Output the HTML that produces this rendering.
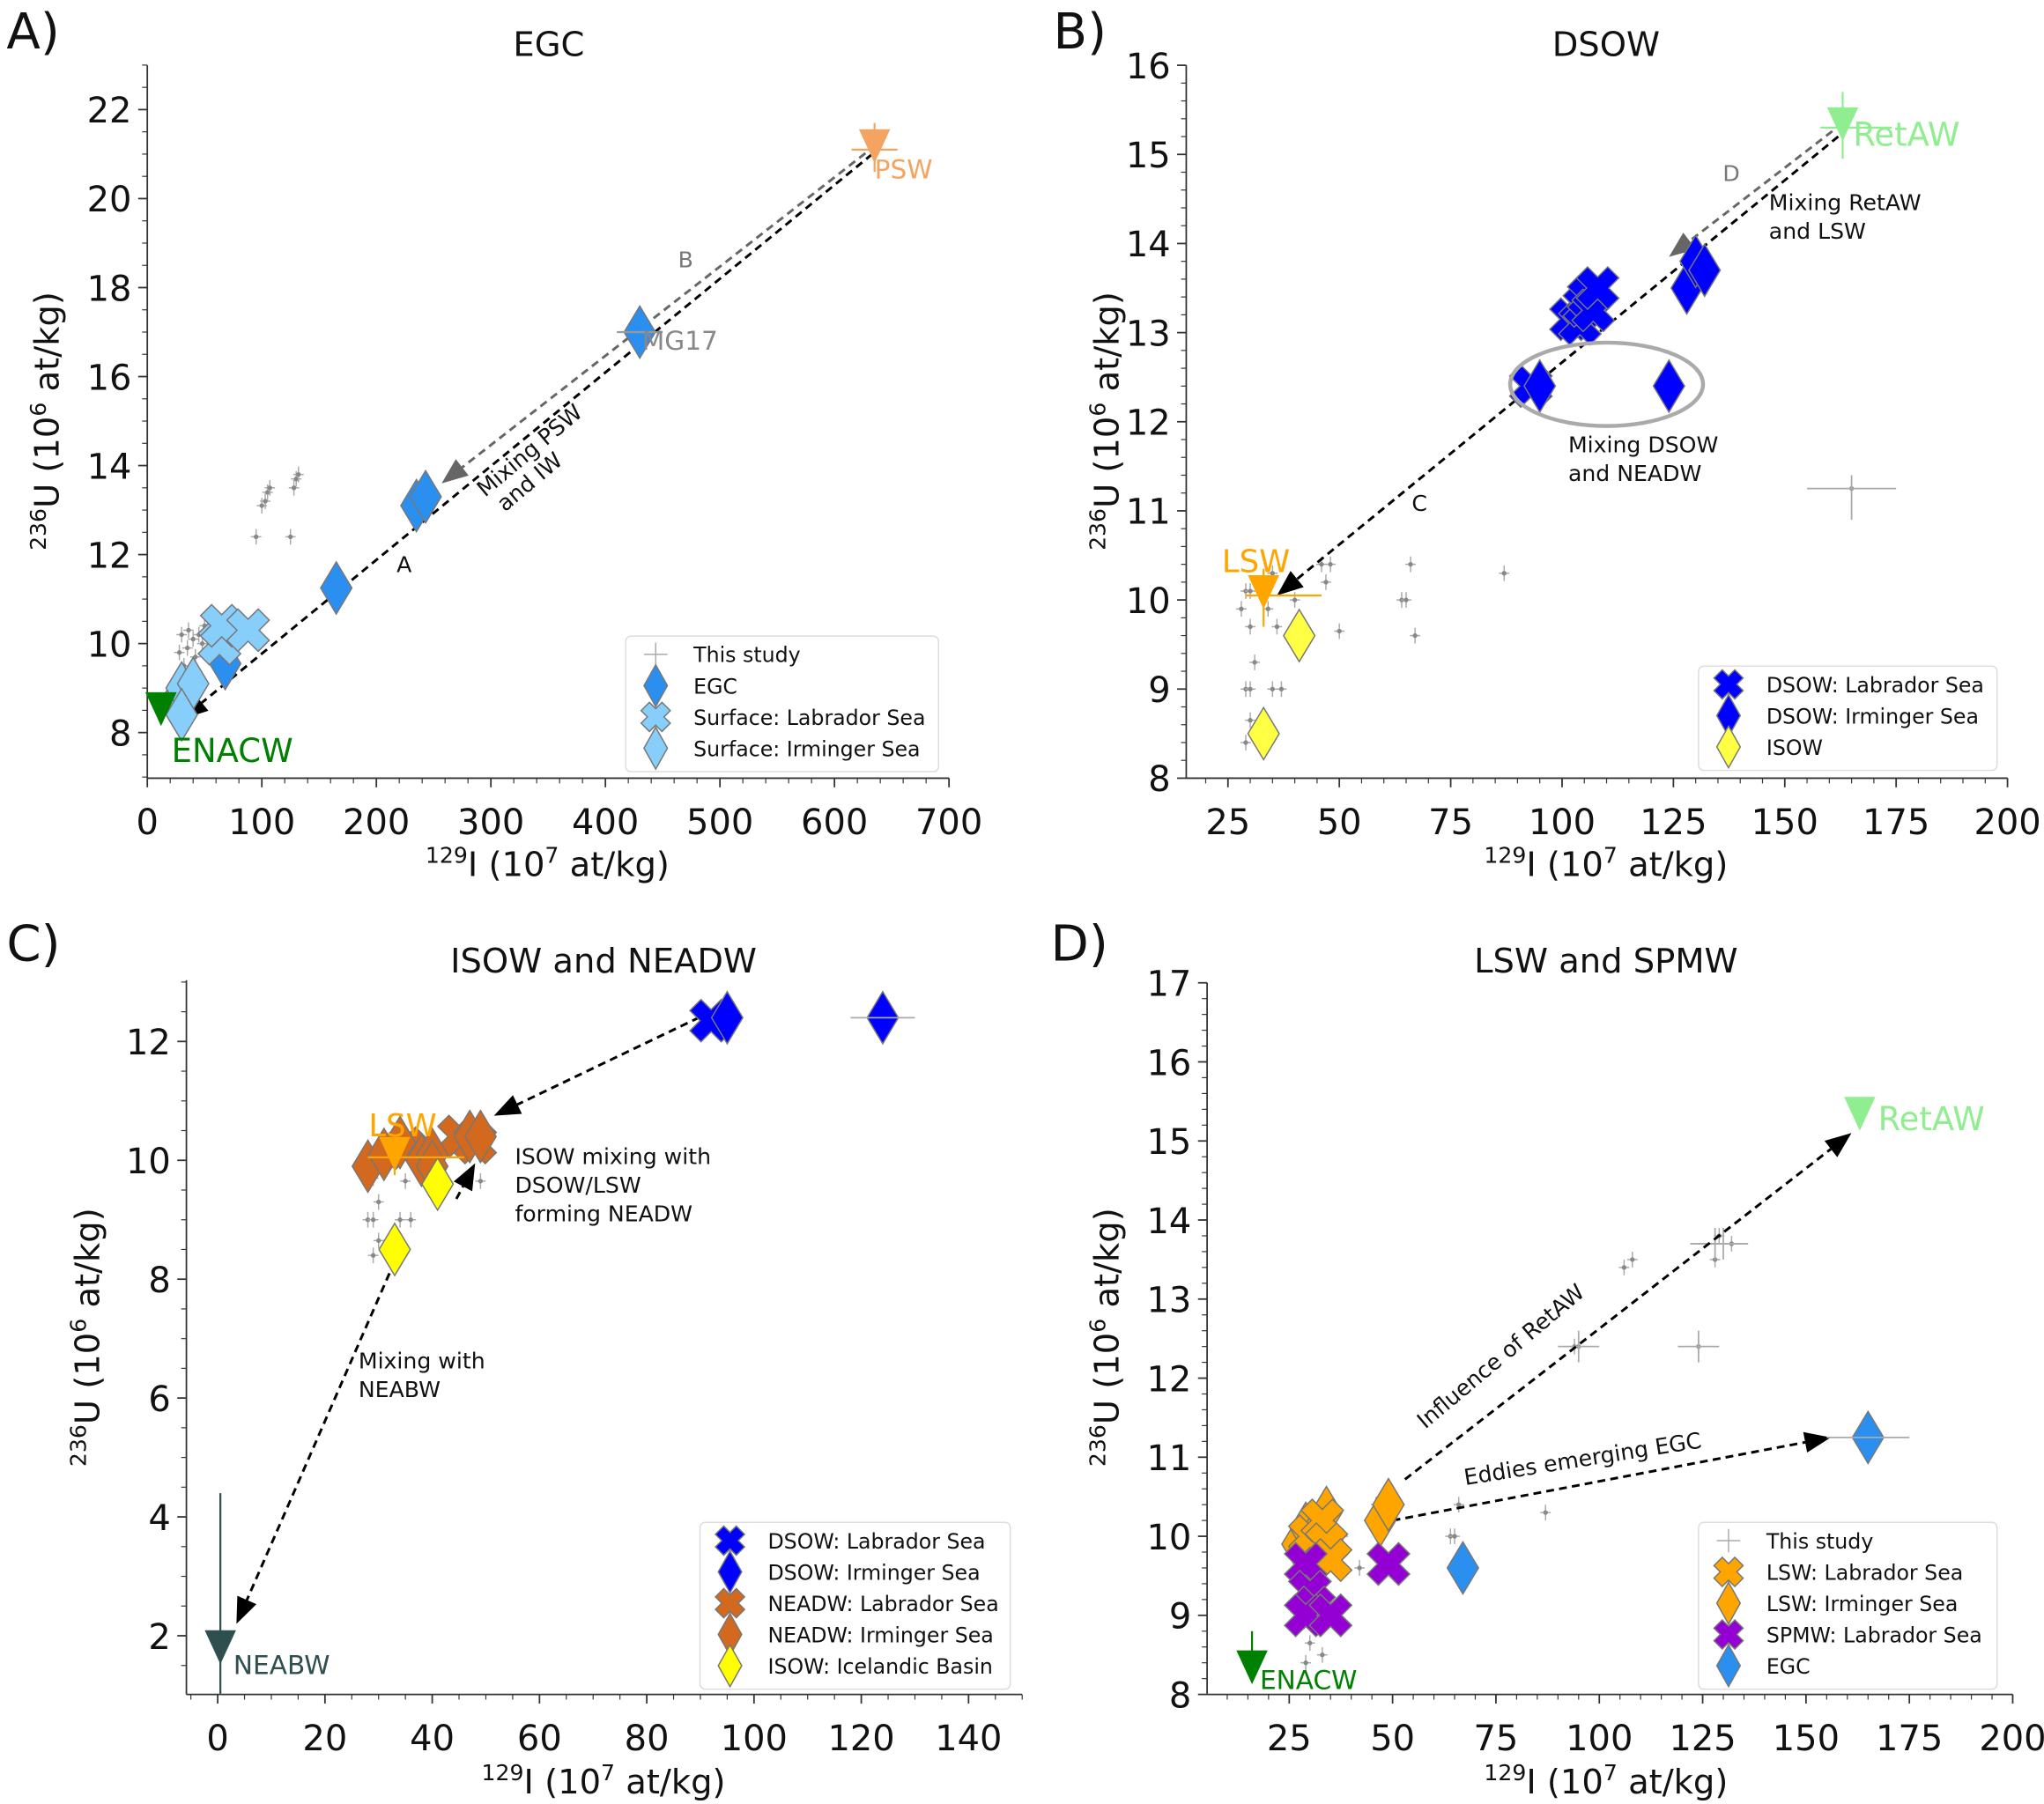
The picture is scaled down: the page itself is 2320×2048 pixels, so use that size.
<!DOCTYPE html>
<html><head><meta charset="utf-8"><style>
html,body{margin:0;padding:0;background:#fff}
svg{display:block}
text{font-family:"DejaVu Sans","Liberation Sans",sans-serif}
</style></head><body>
<svg id="fig" width="2320" height="2048" viewBox="0 0 1568 1384" xmlns="http://www.w3.org/2000/svg">
<rect width="1568" height="1384" fill="#fff"/>
</svg>
<script>
// ---------- data ----------
const aStudyX=[28,30,32,35,36,40,42,45,48,50,95,100,103,105,107,125,128,130,132];
const aStudyY=[9.8,10.2,9.5,9.9,10.3,10.1,9.7,10.2,10.0,10.4,12.4,13.1,13.2,13.4,13.5,12.4,13.5,13.7,13.8];
const aEgcX=[68,165,235,243,430];
const aEgcY=[9.55,11.25,13.1,13.3,17.0];
const aSurfLabX=[63,65,88];
const aSurfLabY=[10.0,10.4,10.3];
const aSurfIrmX=[25,30,40,30];
const aSurfIrmY=[8.7,9.0,9.1,8.4];

const bStudyX=[28,29,30,30,29,30,31,35,37,30,29,35,36,34,40,46,48,47,50,64,65,66,67,87,165];
const bStudyY=[9.9,10.1,10.1,9.7,9.0,9.0,9.3,9.0,9.0,8.65,8.4,10.3,9.7,9.9,10.0,10.4,10.4,10.2,9.65,10.0,10.0,10.4,9.6,10.3,11.25];
const bDsowLabX=[93,102,104,105,106,107,108];
const bDsowLabY=[12.4,13.15,13.1,13.3,13.4,13.25,13.5];
const bDsowIrmX=[95,124,128,130,132];
const bDsowIrmY=[12.4,12.4,13.5,13.8,13.7];
const bIsowX=[33,41];
const bIsowY=[8.5,9.6];

const cStudyX=[28,29,34,36,30,29,30,35,49,29];
const cStudyY=[9.0,9.0,9.0,9.0,9.3,8.4,8.65,9.65,9.65,9.7];
const cDsowLabX=[92];
const cDsowLabY=[12.35];
const cDsowIrmX=[95,124];
const cDsowIrmY=[12.4,12.4];
const cNeadwLabX=[35,45,48];
const cNeadwLabY=[10.2,10.4,10.3];
const cNeadwIrmX=[28,31,34,38,40,40,47,49];
const cNeadwIrmY=[9.9,10.1,10.3,10.0,10.1,9.9,10.4,10.4];
const cIsowX=[33,41];
const cIsowY=[8.5,9.6];

const dStudyX=[29,30,33,35,38,42,46,64,65,66,87,94,95,106,108,124,128,129,132];
const dStudyY=[8.4,8.65,8.5,10.2,10.0,9.6,10.4,10.0,10.0,10.4,10.3,12.4,12.4,13.4,13.5,12.4,13.5,13.8,13.7];
const dLswLabX=[30,33,34,35];
const dLswLabY=[10.0,10.2,9.9,9.7];
const dLswIrmX=[27,29,31,34,47,49];
const dLswIrmY=[9.9,10.1,10.0,10.3,10.2,10.4];
const dSpmwX=[29,30,31,29,35,49];
const dSpmwY=[9.65,9.3,9.1,9.0,9.0,9.65];
const dEgcX=[67,165];
const dEgcY=[9.6,11.25];

const xTicksA=[0,100,200,300,400,500,600,700];
const yTicksA=[8,10,12,14,16,18,20,22];
const xTicksBD=[25,50,75,100,125,150,175,200];
const yTicksB=[8,9,10,11,12,13,14,15,16];
const xTicksC=[0,20,40,60,80,100,120,140];
const yTicksC=[2,4,6,8,10,12];
const yTicksD=[8,9,10,11,12,13,14,15,16,17];

// ---------- helpers ----------
const NS='http://www.w3.org/2000/svg';
const svg=document.getElementById('fig');
function el(tag,attrs,parent,txt){const e=document.createElementNS(NS,tag);for(const k in attrs)e.setAttribute(k,attrs[k]);if(txt!==undefined)e.textContent=txt;(parent||svg).appendChild(e);return e;}
function panel(g){
  g.sx=v=>g.px0+(v-g.x0)*(g.px1-g.px0)/(g.x1-g.x0);
  g.sy=v=>g.py0+(v-g.y0)*(g.py1-g.py0)/(g.y1-g.y0);
  return g;}
function axes(p,xt,yt,xmin,ymin,name){
  const g=el('g',{},svg);
  
  
  el('line',{x1:p.left,y1:p.top,x2:p.left,y2:p.bottom,stroke:'#333','stroke-width':1.2},g);
  el('line',{x1:p.left,y1:p.bottom,x2:p.right,y2:p.bottom,stroke:'#333','stroke-width':1.2},g);
  xt.forEach(v=>{const x=p.sx(v);el('line',{x1:x,y1:p.bottom,x2:x,y2:p.bottom+7,stroke:'#333','stroke-width':1.2},g);
    const t=el('text',{x:x,y:p.bottom+43,'font-size':27,'text-anchor':'middle',fill:'#111'},g,String(v));
    
    });
  yt.forEach(v=>{const y=p.sy(v);el('line',{x1:p.left-7,y1:y,x2:p.left,y2:y,stroke:'#333','stroke-width':1.2},g);
    const t=el('text',{x:p.left-12,y:y+10,'font-size':27,'text-anchor':'end',fill:'#111'},g,String(v));
    
    });
  for(let v=p.xminStart;v<=p.xmaxData+1e-9;v+=xmin){const x=p.sx(v);if(x<p.left-0.5||x>p.right+0.5)continue;el('line',{x1:x,y1:p.bottom,x2:x,y2:p.bottom+4,stroke:'#333','stroke-width':0.8},g);}
  for(let v=p.yminStart;v<=p.ymaxData+1e-9;v+=ymin){const y=p.sy(v);if(y>p.bottom+0.5||y<p.top-0.5)continue;el('line',{x1:p.left-4,y1:y,x2:p.left,y2:y,stroke:'#333','stroke-width':0.8},g);}
}
function xlabel(cx,y){const t=el('text',{x:cx,y:y,'font-size':26,'text-anchor':'middle',fill:'#111'});
  
  
  el('tspan',{'font-size':17,dy:-10},t,'129');el('tspan',{dy:10},t,'I (10');el('tspan',{'font-size':17,dy:-10},t,'7');el('tspan',{dy:10},t,' at/kg)');}
function ylabel(x,cy){const t=el('text',{x:0,y:0,'font-size':26,'text-anchor':'middle',fill:'#111',transform:`translate(${x},${cy}) rotate(-90)`});
  
  
  el('tspan',{'font-size':17,dy:-10},t,'236');el('tspan',{dy:10},t,'U (10');el('tspan',{'font-size':17,dy:-10},t,'6');el('tspan',{dy:10},t,' at/kg)');}
function label(x,y,s,size,fill,anchor,name,rot){const a={x:x,y:y,'font-size':size,fill:fill||'#111','text-anchor':anchor||'start'};
  if(rot)a.transform=`rotate(${rot} ${x} ${y})`;
  const t=el('text',a,svg,s);
  
  return t;}
function diamond(cx,cy,w,h,fill,parent){return el('polygon',{points:`${cx},${cy-h} ${cx+w},${cy} ${cx},${cy+h} ${cx-w},${cy}`,fill:fill,stroke:'#777','stroke-width':1},parent);}
function xmark(cx,cy,s,t,fill,parent){
  const d=t/Math.SQRT2, S=s;
  const pts=[[0,-2*d],[S-d,-S-d],[S+d,-S+d],[2*d,0],[S+d,S-d],[S-d,S+d],[0,2*d],[-S+d,S+d],[-S-d,S-d],[-2*d,0],[-S-d,-S+d],[-S+d,-S-d]];
  return el('polygon',{points:pts.map(p=>(cx+p[0])+','+(cy+p[1])).join(' '),fill:fill,stroke:'#777','stroke-width':1},parent);}
function tri(cx,cy,w,h,fill,parent){return el('polygon',{points:`${cx-w},${cy-h*0.6} ${cx+w},${cy-h*0.6} ${cx},${cy+h*0.4}`,fill:fill},parent);}
function study(p,xs,ys,name){const g=el('g',{});
  
  
  xs.forEach((v,i)=>{const x=p.sx(v),y=p.sy(ys[i]);
    el('line',{x1:x-4,y1:y,x2:x+4,y2:y,stroke:'#aaa','stroke-width':1},g);
    el('line',{x1:x,y1:y-6,x2:x,y2:y+6,stroke:'#aaa','stroke-width':1},g);
    el('circle',{cx:x,cy:y,r:1.8,fill:'#888'},g);});}
function series(p,xs,ys,kind,fill,name){const g=el('g',{});
  
  
  xs.forEach((v,i)=>{const x=p.sx(v),y=p.sy(ys[i]);
    if(kind==='d')diamond(x,y,12,20,fill,g);else xmark(x,y,12,6,fill,g);});}
function endmember(p,x,y,fill,name,ex,ey,lbl,lx,ly,lsize){
  const g=el('g',{});
  
  
  const X=p.sx(x),Y=p.sy(y);
  if(ex){el('line',{x1:p.sx(x-ex[0]),y1:Y,x2:p.sx(x+ex[1]),y2:Y,stroke:fill,'stroke-width':1.5},g);}
  if(ey){el('line',{x1:X,y1:p.sy(y-ey[0]),x2:X,y2:p.sy(y+ey[1]),stroke:fill,'stroke-width':1.5},g);}
  tri(X,Y,12,26,fill,g);
  if(lbl){el('text',{x:X+lx,y:Y+ly,'font-size':lsize||24,fill:fill},g,lbl);}
}
function arrow(p,x1,y1,x2,y2,col,name){
  const X1=p.sx(x1),Y1=p.sy(y1),X2=p.sx(x2),Y2=p.sy(y2);
  const g=el('g',{});
  
  
  const a=Math.atan2(Y2-Y1,X2-X1),L=20,W=8;
  const bx=X2-L*Math.cos(a),by=Y2-L*Math.sin(a);
  el('line',{x1:X1,y1:Y1,x2:bx,y2:by,stroke:col,'stroke-width':2,'stroke-dasharray':'6,4'},g);
  el('polygon',{points:`${X2},${Y2} ${bx+W*Math.sin(a)},${by-W*Math.cos(a)} ${bx-W*Math.sin(a)},${by+W*Math.cos(a)}`,fill:col},g);}
function legend(x,y,w,entries,name){
  const g=el('g',{});
  
  
  el('rect',{x:x,y:y,width:w,height:entries.length*24+8,rx:4,fill:'#fff','fill-opacity':0.85,stroke:'#ddd','stroke-width':1},g);
  entries.forEach((e,i)=>{const cy=y+14+i*24,mx=x+23;
    const eg=el('g',{},g);
    
    
    if(e[0]==='s'){el('line',{x1:mx-9,y1:cy,x2:mx+9,y2:cy,stroke:'#aaa'},eg);el('line',{x1:mx,y1:cy-9,x2:mx,y2:cy+9,stroke:'#aaa'},eg);}
    else if(e[0]==='d')diamond(mx,cy,9,16,e[1],eg);else xmark(mx,cy,8,4.5,e[1],eg);
    el('text',{x:x+52,y:cy+6,'font-size':16,fill:'#111'},eg,e[2]);});}

// ---------- panel A ----------
const pA=panel({x0:0,x1:700,px0:113,px1:728,y0:8,y1:22,py0:562,py1:84,left:113,right:728,top:50,bottom:597,xminStart:0,xmaxData:700,yminStart:7,ymaxData:23});
axes(pA,xTicksA,yTicksA,20,0.5,'panel-a');
label(5,37,'A)',38,'#111','start','panel-a-letter');
label(421,43,'EGC',26,'#111','middle','panel-a-title');
xlabel(420,672);ylabel(45,323);
study(pA,aStudyX,aStudyY,'a-this-study');
arrow(pA,633,21.0,30,8.3,'#000','arrow-a');
arrow(pA,636,21.2,257,13.6,'#666','arrow-b');
series(pA,aEgcX,aEgcY,'d','#2b8ff0','a-egc');
series(pA,aSurfLabX,aSurfLabY,'x','#87cefa','a-surface-labrador');
series(pA,aSurfIrmX,aSurfIrmY,'d','#87cefa','a-surface-irminger');
el('line',{x1:pA.sx(410),y1:pA.sy(17),x2:pA.sx(450),y2:pA.sy(17),stroke:'#999','stroke-width':1.5});
endmember(pA,635,21.1,'#f4a460','psw-endmember',[20,20],[0.5,0.6],'PSW',0,22,20);
endmember(pA,12,8.45,'#008000','enacw-endmember',null,null,'ENACW',8,38,25);
label(pA.sx(432),pA.sy(16.6),'MG17',20,'#888','start','mg17-label');
label(310,439,'A',17,'#111','middle','line-a-label');
label(526,205,'B',17,'#777','middle','line-b-label');
label(410,350,'Mixing PSW',17,'#111','middle','mixing-psw-label',-40);
label(410,374,'and IW',17,'#111','middle','mixing-iw-label',-40);
legend(480,488,240,[['s','','This study'],['d','#2b8ff0','EGC'],['x','#87cefa','Surface: Labrador Sea'],['d','#87cefa','Surface: Irminger Sea']],'legend-a');

// ---------- panel B ----------
const pB=panel({x0:25,x1:200,px0:942,px1:1540,y0:8,y1:16,py0:597,py1:50,left:910,right:1540,top:50,bottom:597,xminStart:20,xmaxData:200,yminStart:8,ymaxData:16});
axes(pB,xTicksBD,yTicksB,5,0.2,'panel-b');
label(808,37,'B)',38,'#111','start','panel-b-letter');
label(1232,43,'DSOW',26,'#111','middle','panel-b-title');
xlabel(1232,672);ylabel(858,323);
study(pB,bStudyX,bStudyY,'b-this-study');
el('line',{x1:pB.sx(155),y1:pB.sy(11.25),x2:pB.sx(175),y2:pB.sy(11.25),stroke:'#aaa','stroke-width':1.2});
el('line',{x1:pB.sx(165),y1:pB.sy(10.9),x2:pB.sx(165),y2:pB.sy(11.4),stroke:'#aaa','stroke-width':1.2});
arrow(pB,162,15.2,36,10.05,'#000','arrow-c');
arrow(pB,163,15.35,124,13.85,'#666','arrow-d');
series(pB,bDsowLabX,bDsowLabY,'x','#0000ff','b-dsow-labrador');
series(pB,bDsowIrmX,bDsowIrmY,'d','#0000ff','b-dsow-irminger');
series(pB,bIsowX,bIsowY,'d','#ffff44','b-isow');
{const e=el('ellipse',{cx:pB.sx(110),cy:pB.sy(12.42),rx:74,ry:32,fill:'none',stroke:'#aaa','stroke-width':3});
 
 }
endmember(pB,33,10.05,'#ffa500','b-lsw-endmember',[4,13],[0.35,0.3],'LSW',-32,-18,24);
endmember(pB,163,15.3,'#90ee90','b-retaw-endmember',[5,11],[0.35,0.4],'RetAW',8,14,25);
label(pB.sx(68),pB.sy(11.0),'C',17,'#111','middle','line-c-label');
label(pB.sx(138),pB.sy(14.7),'D',17,'#777','middle','line-d-label');
label(1357,161,'Mixing RetAW',17,'#111','start','mixing-retaw-label');
label(1357,183,'and LSW',17,'#111','start','mixing-lsw-label');
label(1203,347,'Mixing DSOW',17,'#111','start','mixing-dsow-label');
label(1203,369,'and NEADW',17,'#111','start','mixing-neadw-label');
legend(1303,511,229,[['x','#0000ff','DSOW: Labrador Sea'],['d','#0000ff','DSOW: Irminger Sea'],['d','#ffff44','ISOW']],'legend-b');

// ---------- panel C ----------
const pC=panel({x0:0,x1:140,px0:167,px1:743,y0:2,y1:12,py0:1255,py1:799,left:143,right:784,top:752,bottom:1300,xminStart:-5,xmaxData:150,yminStart:1,ymaxData:13});
axes(pC,xTicksC,yTicksC,5,0.5,'panel-c');
label(5,737,'C)',38,'#111','start','panel-c-letter');
label(463,746,'ISOW and NEADW',26,'#111','middle','panel-c-title');
xlabel(463,1376);ylabel(76,1026);
study(pC,cStudyX,cStudyY,'c-this-study');
arrow(pC,92,12.5,51.5,10.75,'#000','arrow-isow-dsow');
arrow(pC,44.5,9.35,48,9.95,'#000','arrow-neadw');
arrow(pC,33,8.3,3.5,2.2,'#000','arrow-neabw');
series(pC,cDsowLabX,cDsowLabY,'x','#0000ff','c-dsow-labrador');
series(pC,cDsowIrmX,cDsowIrmY,'d','#0000ff','c-dsow-irminger');
el('line',{x1:pC.sx(118),y1:pC.sy(12.4),x2:pC.sx(130),y2:pC.sy(12.4),stroke:'#aaa','stroke-width':1.2});
series(pC,cNeadwLabX,cNeadwLabY,'x','#d2691e','c-neadw-labrador');
series(pC,cNeadwIrmX,cNeadwIrmY,'d','#d2691e','c-neadw-irminger');
series(pC,cIsowX,cIsowY,'d','#ffff00','c-isow');
endmember(pC,33,10.05,'#ffa500','c-lsw-endmember',[5,13],[0.3,0.2],'LSW',-20,-16,24);
endmember(pC,0.5,1.75,'#2f4f4f','neabw-endmember',null,[0.75,2.65],'NEABW',10,18,20);
label(395,893,'ISOW mixing with',17,'#111','start','isow-mixing-label');
label(395,915,'DSOW/LSW',17,'#111','start','dsow-lsw-label');
label(395,937,'forming NEADW',17,'#111','start','forming-neadw-label');
label(275,1050,'Mixing with',17,'#111','start','mixing-with-label');
label(275,1072,'NEABW',17,'#111','start','neabw-text-label');
legend(537,1168,238,[['x','#0000ff','DSOW: Labrador Sea'],['d','#0000ff','DSOW: Irminger Sea'],['x','#d2691e','NEADW: Labrador Sea'],['d','#d2691e','NEADW: Irminger Sea'],['d','#ffff00','ISOW: Icelandic Basin']],'legend-c');

// ---------- panel D ----------
const pD=panel({x0:25,x1:200,px0:989,px1:1544,y0:8,y1:17,py0:1300,py1:754,left:926,right:1544,top:754,bottom:1300,xminStart:10,xmaxData:200,yminStart:8,ymaxData:17});
axes(pD,xTicksBD,yTicksD,5,0.2,'panel-d');
label(806,737,'D)',38,'#111','start','panel-d-letter');
label(1232,746,'LSW and SPMW',26,'#111','middle','panel-d-title');
xlabel(1232,1376);ylabel(858,1026);
study(pD,dStudyX,dStudyY,'d-this-study');
[[95,12.4,5],[124,12.4,5],[128,13.7,6],[130,13.7,6]].forEach(e=>{el('line',{x1:pD.sx(e[0]-e[2]),y1:pD.sy(e[1]),x2:pD.sx(e[0]+e[2]),y2:pD.sy(e[1]),stroke:'#aaa','stroke-width':1.2});el('line',{x1:pD.sx(e[0]),y1:pD.sy(e[1]-0.2),x2:pD.sx(e[0]),y2:pD.sy(e[1]+0.2),stroke:'#aaa','stroke-width':1.2});});
arrow(pD,53,10.72,161,15.1,'#000','arrow-retaw');
arrow(pD,50,10.2,156,11.25,'#000','arrow-egc');
series(pD,dLswIrmX,dLswIrmY,'d','#ffa500','d-lsw-irminger');
series(pD,dLswLabX,dLswLabY,'x','#ffa500','d-lsw-labrador');
series(pD,dSpmwX,dSpmwY,'x','#9400d3','d-spmw-labrador');
series(pD,dEgcX,dEgcY,'d','#2b8ff0','d-egc');
el('line',{x1:pD.sx(155),y1:pD.sy(11.25),x2:pD.sx(175),y2:pD.sy(11.25),stroke:'#aaa','stroke-width':1.2});
endmember(pD,16,8.3,'#008000','d-enacw-endmember',null,[0.1,0.5],'ENACW',6,14,20);
endmember(pD,163,15.3,'#90ee90','d-retaw-endmember',null,null,'RetAW',14,10,25);
label(1155,1045,'Influence of RetAW',17,'#111','middle','influence-retaw-label',-40);
label(1215,1125,'Eddies emerging EGC',17,'#111','middle','eddies-egc-label',-9);
legend(1303,1168,229,[['s','','This study'],['x','#ffa500','LSW: Labrador Sea'],['d','#ffa500','LSW: Irminger Sea'],['x','#9400d3','SPMW: Labrador Sea'],['d','#2b8ff0','EGC']],'legend-d');
</script>
</body></html>
